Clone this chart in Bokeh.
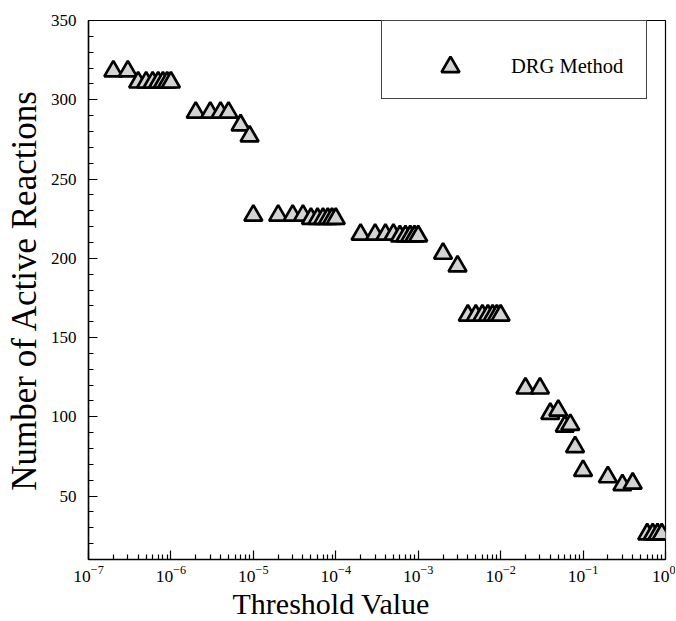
from bokeh.plotting import figure
from bokeh.models import (FixedTicker, SingleIntervalTicker, Legend, LegendItem,
                          ColumnDataSource, Title)
from bokeh.embed import file_html
from bokeh.resources import INLINE

# ---- data ----
thresholds = [2e-7, 3e-7, 4e-7, 5e-7, 6e-7, 7e-7, 8e-7, 9e-7, 1e-6,
              2e-6, 3e-6, 4e-6, 5e-6, 7e-6, 9e-6,
              1e-5, 2e-5, 3e-5, 4e-5, 5e-5, 6e-5, 7e-5, 8e-5, 9e-5, 1e-4,
              2e-4, 3e-4, 4e-4, 5e-4, 6e-4, 7e-4, 8e-4, 9e-4, 1e-3,
              2e-3, 3e-3, 4e-3, 5e-3, 6e-3, 7e-3, 8e-3, 9e-3, 1e-2,
              2e-2, 3e-2, 4e-2, 5e-2, 6e-2, 7e-2, 8e-2, 1e-1,
              2e-1, 3e-1, 4e-1, 6e-1, 7e-1, 8e-1, 9e-1]
reactions = [318, 318, 311, 311, 311, 311, 311, 311, 311,
             292, 292, 292, 292, 284, 277,
             227, 227, 227, 227, 225, 225, 225, 225, 225, 225,
             215, 215, 215, 215, 214, 214, 214, 214, 214,
             203, 195, 164, 164, 164, 164, 164, 164, 164,
             118, 118, 102, 104, 94, 95, 81, 66,
             62, 57, 58, 26, 26, 26, 26]

x_major_ticks = [1e-7, 1e-6, 1e-5, 1e-4, 1e-3, 1e-2, 1e-1, 1e0]
x_minor_ticks = [m * 10.0 ** e for e in range(-7, 0) for m in range(2, 10)]
series_label = "DRG Method"
x_title = "Threshold Value"
y_title = "Number of Active Reactions"

SERIF = "Liberation Serif"

p = figure(x_axis_type="log", x_range=(1e-7, 1.0), y_range=(10, 350),
           frame_width=577, frame_height=539,
           min_border_left=88, min_border_top=20, min_border_right=10,
           min_border_bottom=60,
           output_backend="svg", toolbar_location=None)

p.xaxis.ticker = FixedTicker(ticks=x_major_ticks, minor_ticks=x_minor_ticks)
p.yaxis.ticker = SingleIntervalTicker(interval=50, num_minor_ticks=5)

for ax in (p.xaxis, p.yaxis):
    ax.major_tick_in = 9
    ax.major_tick_out = 0
    ax.minor_tick_in = 5
    ax.minor_tick_out = 0
    ax.axis_line_width = 1.5
    ax.axis_line_color = "black"
    ax.major_tick_line_color = "black"
    ax.minor_tick_line_color = "black"
    ax.major_tick_line_width = 1.2
    ax.minor_tick_line_width = 1.2
    ax.major_label_text_font = SERIF
    ax.major_label_text_font_size = "17px"
    ax.major_label_text_color = "black"
    ax.axis_label_text_font = SERIF
    ax.axis_label_text_font_style = "normal"
    ax.axis_label_text_color = "black"

p.xaxis.major_label_text_font_size = "17.5px"
p.yaxis.axis_label_text_font_size = "35px"
p.yaxis.axis_label = y_title
p.yaxis.major_label_standoff = 12
p.xaxis.major_label_standoff = 6
p.yaxis.axis_label_standoff = 4

# x-axis title sits left of centre in the reference
p.add_layout(Title(text=x_title, align="left", offset=144, standoff=0,
                   text_font=SERIF, text_font_size="30px",
                   text_font_style="normal", text_color="black"), "below")

p.xgrid.visible = False
p.ygrid.visible = False
p.outline_line_color = "black"
p.outline_line_width = 1.2

src = ColumnDataSource(dict(x=thresholds, y=reactions))
r = p.scatter("x", "y", source=src, marker="triangle", size=18,
              fill_color="#d3d3d3", line_color="black", line_width=2.7)

legend = Legend(items=[LegendItem(label=series_label, renderers=[r])],
                location=(293, 460), margin=0, padding=9, spacing=0,
                title=" ", title_text_font_size="10px", title_standoff=3,
                glyph_width=118, glyph_height=45, label_standoff=2,
                label_width=126,
                label_text_font=SERIF, label_text_font_size="20.5px",
                label_text_color="black",
                border_line_color="#444444", border_line_width=1.5,
                border_line_alpha=1.0,
                background_fill_color="white", background_fill_alpha=1.0)
p.add_layout(legend)

open("out.html", "w").write(file_html(p, INLINE))
